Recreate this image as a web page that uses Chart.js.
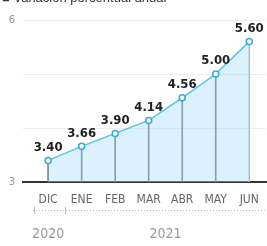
<!DOCTYPE html>
<html>
<head>
<meta charset="utf-8">
<script src="https://cdn.jsdelivr.net/npm/chart.js@4/dist/chart.umd.min.js"></script>
<style>
html,body{margin:0;padding:0;background:#fff;}
#wrap{width:267px;height:246px;position:relative;}
</style>
</head>
<body>
<div id="wrap"><canvas id="c" width="267" height="246"></canvas></div>
<script>
const titleText = "■ Variación porcentual anual";
const months = ["DIC","ENE","FEB","MAR","ABR","MAY","JUN"];
const values = [3.40, 3.66, 3.90, 4.14, 4.56, 5.00, 5.60];
const valueLabels = ["3.40","3.66","3.90","4.14","4.56","5.00","5.60"];
const yTickLabels = {3: "3", 6: "6"};
const years = [{label: "2020", at: 0}, {label: "2021", at: 3.5}];

const NARROW = '"Liberation Sans Narrow", "DejaVu Sans Condensed", sans-serif';

const linePts = values.map((v, i) => ({x: i, y: v}));
const dropPts = values.map((v, i) => ({x: i, y: [3, v]}));

const extras = {
  id: 'extras',
  beforeDraw(chart) {
    const ctx = chart.ctx;
    ctx.save();
    ctx.fillStyle = '#fff';
    ctx.fillRect(0, 0, chart.width, chart.height);
    ctx.restore();
  },
  afterDraw(chart) {
    const ctx = chart.ctx;
    const xs = chart.scales.x;
    ctx.save();
    // title (clipped at top)
    ctx.fillStyle = '#333';
    ctx.font = '13px "Liberation Sans", sans-serif';
    ctx.textBaseline = 'alphabetic';
    ctx.textAlign = 'left';
    ctx.fillText(titleText, 2, 2);
    // dotted separator line
    ctx.strokeStyle = '#bbb';
    ctx.lineWidth = 1;
    ctx.setLineDash([1, 2]);
    ctx.beginPath();
    ctx.moveTo(33, 210.5);
    ctx.lineTo(267, 210.5);
    ctx.stroke();
    ctx.setLineDash([]);
    ctx.beginPath();
    ctx.moveTo(34.5, 207); ctx.lineTo(34.5, 214);
    const sx = Math.round(xs.getPixelForValue(0.5)) + 0.5;
    ctx.moveTo(sx, 207); ctx.lineTo(sx, 214);
    ctx.stroke();
    // year labels
    ctx.fillStyle = '#999';
    ctx.font = '14px ' + NARROW;
    ctx.textAlign = 'center';
    ctx.textBaseline = 'middle';
    years.forEach(y => ctx.fillText(y.label, xs.getPixelForValue(y.at), 234));
    // value labels
    const meta = chart.getDatasetMeta(1);
    ctx.fillStyle = '#222';
    ctx.font = 'bold 13px ' + NARROW;
    meta.data.forEach((pt, i) => {
      ctx.fillText(valueLabels[i], pt.x, pt.y - 13);
    });
    ctx.restore();
  }
};

new Chart(document.getElementById('c'), {
  data: {
    datasets: [
      {
        type: 'bar',
        data: dropPts,
        backgroundColor: (c) => c.dataIndex === 6 ? '#bbb' : '#777',
        barThickness: 1,
        order: 2
      },
      {
        type: 'line',
        data: linePts,
        borderColor: '#5cc0e6',
        borderWidth: 1.5,
        backgroundColor: 'rgba(165,220,245,0.4)',
        fill: 'start',
        tension: 0,
        pointRadius: 3,
        pointBorderWidth: 1.5,
        pointBackgroundColor: '#fff',
        pointBorderColor: '#3aa8d8',
        order: 1
      }
    ]
  },
  options: {
    responsive: false,
    animation: false,
    events: [],
    layout: {autoPadding: false, padding: {top: 20, right: 1, left: 0, bottom: 0}},
    plugins: {legend: {display: false}, tooltip: {enabled: false}},
    scales: {
      x: {
        type: 'linear',
        offset: false,
        min: -0.75,
        max: 6.5,
        afterBuildTicks: (s) => { s.ticks = months.map((m, i) => ({value: i})); },
        afterFit: (s) => { s.height = 64; s.paddingLeft = 0; s.paddingRight = 0; },
        grid: {display: false, offset: false},
        border: {display: true, color: '#333', width: 2},
        ticks: {
          callback: (v) => months[v] ?? '',
          color: '#666',
          font: {family: NARROW, size: 12},
          padding: 3,
          maxRotation: 0,
          autoSkip: false
        }
      },
      y: {
        min: 3,
        max: 6,
        afterBuildTicks: (s) => { s.ticks = [3,4,5,6].map(v => ({value: v})); },
        afterFit: (s) => { s.width = 23; },
        grid: {color: '#ececec', drawTicks: false, lineWidth: 1},
        border: {display: false},
        ticks: {
          callback: (v) => yTickLabels[v] ?? '',
          color: '#999',
          font: {family: NARROW, size: 11},
          padding: 8
        }
      }
    }
  },
  plugins: [extras]
});
</script>
</body>
</html>
